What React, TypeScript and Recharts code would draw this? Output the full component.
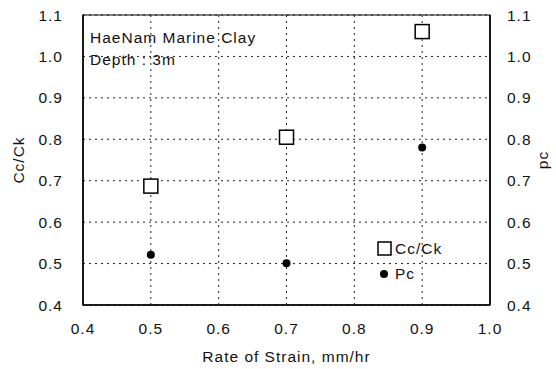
import React from 'react';
import { ScatterChart, Scatter, XAxis, YAxis, CartesianGrid, ReferenceArea } from 'recharts';

const rates = [0.5, 0.7, 0.9];
const ccCk = [0.687, 0.805, 1.06];
const pc = [0.521, 0.501, 0.78];
const xTicks = [0.4, 0.5, 0.6, 0.7, 0.8, 0.9, 1.0];
const yTicks = [0.4, 0.5, 0.6, 0.7, 0.8, 0.9, 1.0, 1.1];
const yMin = 0.4;
const yMax = 1.1;

const ccData = rates.map((x, i) => ({ x, y: ccCk[i] }));
const pcData = rates.map((x, i) => ({ x, y: pc[i] }));
const vGrid = xTicks.slice(1, -1).map((x) => [{ x, y: yMin }, { x, y: yMax }]);

const FONT = '"Liberation Sans", Arial, sans-serif';
const TXT = { fontSize: 15.5, fill: '#111', fontFamily: FONT, letterSpacing: 1 };

const Square = (props: any) => {
  const { cx, cy } = props;
  return <rect x={cx - 7} y={cy - 7} width={14} height={14} fill="#fff" stroke="#000" strokeWidth={1.5} />;
};
const Dot = (props: any) => {
  const { cx, cy } = props;
  return <circle cx={cx} cy={cy} r={4} fill="#000" />;
};
const NoShape = () => <g />;

const fmt = (v: number) => v.toFixed(1);

export default function App() {
  const tick = { ...TXT };
  return (
    <div style={{ position: 'absolute', left: 0, top: 0, width: 556, height: 369, background: '#fff' }}>
      <ScatterChart width={556} height={369} margin={{ top: 15, right: 0, bottom: 0, left: 0 }}>
        <CartesianGrid vertical={false} stroke="#222" strokeDasharray="2 4" />
        <XAxis
          type="number"
          dataKey="x"
          domain={[0.4, 1.0]}
          ticks={xTicks}
          tickFormatter={fmt}
          height={64}
          tickSize={0}
          tickMargin={18}
          axisLine={{ stroke: '#000', strokeWidth: 1.5 }}
          tick={tick}
          label={{ value: 'Rate of Strain, mm/hr', position: 'insideBottom', offset: 7, style: TXT }}
          allowDataOverflow
        />
        <YAxis
          type="number"
          dataKey="y"
          domain={[yMin, yMax]}
          ticks={yTicks}
          tickFormatter={fmt}
          width={83}
          tickSize={0}
          tickMargin={20}
          axisLine={{ stroke: '#000', strokeWidth: 1.5 }}
          tick={tick}
          label={{ value: 'Cc/Ck', angle: -90, position: 'insideLeft', offset: 18, style: { ...TXT, textAnchor: 'middle' } }}
          allowDataOverflow
        />
        <YAxis
          yAxisId="r"
          orientation="right"
          type="number"
          dataKey="y"
          domain={[yMin, yMax]}
          ticks={yTicks}
          tickFormatter={fmt}
          width={66}
          tickSize={0}
          tickMargin={17}
          axisLine={{ stroke: '#000', strokeWidth: 1.5 }}
          tick={tick}
          label={{ value: 'pc', angle: -90, position: 'insideRight', offset: 14, style: { ...TXT, textAnchor: 'middle' } }}
          allowDataOverflow
        />
        {vGrid.map((d, i) => (
          <Scatter
            key={'g' + i}
            data={d}
            shape={<NoShape />}
            line={{ stroke: '#222', strokeWidth: 1, strokeDasharray: '2 4' }}
            isAnimationActive={false}
          />
        ))}
        <ReferenceArea x1={0.4} x2={1.0} y1={yMin} y2={yMax} fill="none" stroke="#000" strokeWidth={1.2} ifOverflow="visible" />
        <Scatter data={ccData} shape={<Square />} isAnimationActive={false} />
        <Scatter yAxisId="r" data={pcData} shape={<Dot />} isAnimationActive={false} />
        <text x={90} y={43} {...TXT}>HaeNam Marine Clay</text>
        <text x={90} y={65} {...TXT}>Depth : 3m</text>
        <rect x={378} y={242} width={13} height={13} fill="#fff" stroke="#000" strokeWidth={1.5} />
        <text x={395} y={254} {...TXT}>Cc/Ck</text>
        <circle cx={384} cy={274} r={4} fill="#000" />
        <text x={395} y={279} {...TXT}>Pc</text>
      </ScatterChart>
    </div>
  );
}
